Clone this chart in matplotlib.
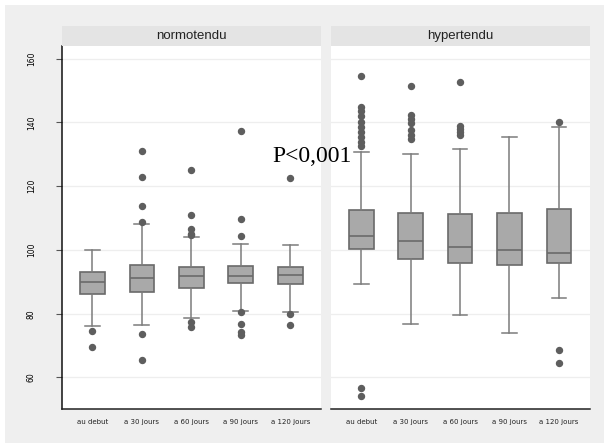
import matplotlib.pyplot as plt
from matplotlib.patches import Rectangle

# categories (time points)
categories = ['au debut', 'a 30 jours', 'a 60 jours', 'a 90 jours', 'a 120 jours']
groups = ['normotendu', 'hypertendu']

# normotendu box stats
normo_med = [89.9, 91.3, 91.7, 91.7, 92.0]
normo_q1 = [86.2, 86.7, 88.2, 89.5, 89.2]
normo_q3 = [93.2, 95.3, 94.7, 95.1, 94.7]
normo_wlo = [76.0, 76.4, 78.7, 81.0, 80.6]
normo_whi = [100.0, 108.1, 104.1, 102.0, 101.4]
normo_fliers = [
    [74.7, 69.7],
    [131.1, 123.0, 113.7, 108.9, 73.5, 65.4],
    [125.1, 111.1, 106.7, 105.1, 104.6, 77.5, 75.7],
    [137.2, 109.7, 104.4, 80.6, 76.8, 74.4, 73.4],
    [122.7, 79.8, 76.6],
]

# hypertendu box stats
hyper_med = [104.5, 102.9, 101.0, 100.0, 99.0]
hyper_q1 = [100.2, 97.2, 95.8, 95.2, 95.8]
hyper_q3 = [112.6, 111.7, 111.3, 111.7, 113.0]
hyper_wlo = [89.4, 76.8, 79.5, 74.0, 85.0]
hyper_whi = [130.8, 130.1, 131.7, 135.4, 138.6]
hyper_fliers = [
    [154.7, 145.0, 143.5, 142.0, 140.0, 138.5, 137.0, 135.5, 134.0, 132.5, 56.8, 54.1],
    [151.5, 142.2, 141.0, 139.8, 137.5, 136.0, 134.8],
    [152.6, 139.0, 138.0, 137.0, 136.2],
    [],
    [140.2, 68.7, 64.4],
]

y_ticks = [60, 80, 100, 120, 140, 160]


def make_stats(med, q1, q3, wlo, whi, fliers):
    stats = []
    for i in range(len(med)):
        stats.append({'med': med[i], 'q1': q1[i], 'q3': q3[i],
                      'whislo': wlo[i], 'whishi': whi[i], 'fliers': fliers[i]})
    return stats


all_stats = [
    make_stats(normo_med, normo_q1, normo_q3, normo_wlo, normo_whi, normo_fliers),
    make_stats(hyper_med, hyper_q1, hyper_q3, hyper_wlo, hyper_whi, hyper_fliers),
]

W, H = 604, 443
fig = plt.figure(figsize=(W / 100, H / 100), dpi=100)
fig.patch.set_facecolor('white')
fig.patches.append(Rectangle((5 / W, 0), 1, (H - 5) / H, transform=fig.transFigure,
                             facecolor='#efefef', edgecolor='none', zorder=-10))

ax_bottom = (H - 409.3) / H
ax_height = (409.3 - 46) / H
strip_h = 19.7 / H
lefts = [62.3 / W, 331 / W]
width = 258.6 / W

box_col = '#a9a9a9'
edge_col = '#6a6a6a'
whisk_col = '#7c7c7c'
dot_col = '#5e5e5e'

axes = []
for k, stats in enumerate(all_stats):
    ax = fig.add_axes([lefts[k], ax_bottom, width, ax_height])
    axes.append(ax)
    ax.bxp(stats, positions=range(1, 6), widths=0.5, capwidths=0.3, patch_artist=True,
           boxprops=dict(facecolor=box_col, edgecolor=edge_col, linewidth=1.2),
           medianprops=dict(color=edge_col, linewidth=1.2),
           whiskerprops=dict(color=whisk_col, linewidth=1.1),
           capprops=dict(color=whisk_col, linewidth=1.1),
           flierprops=dict(marker='o', markerfacecolor=dot_col, markeredgecolor=dot_col,
                           markersize=4.3))
    ax.set_xlim(0.39, 5.62)
    ax.set_ylim(50, 164)
    ax.set_yticks(y_ticks)
    ax.set_xticks(range(1, 6))
    ax.set_xticklabels(categories, fontsize=5, color='#222222')
    ax.tick_params(axis='x', length=0, pad=7)
    ax.yaxis.grid(True, color='#eeeeee', linewidth=0.9)
    ax.set_axisbelow(True)
    for s in ['top', 'right']:
        ax.spines[s].set_visible(False)
    ax.spines['bottom'].set_color('#222222')
    ax.spines['bottom'].set_linewidth(1.1)

    # facet strip
    fig.patches.append(Rectangle((lefts[k], ax_bottom + ax_height), width, strip_h,
                                 transform=fig.transFigure, facecolor='#e4e4e4',
                                 edgecolor='none'))
    fig.text(lefts[k] + width / 2, ax_bottom + ax_height + strip_h / 2, groups[k],
             ha='center', va='center', fontsize=9.5, family='Liberation Sans',
             color='#222222')

ax0, ax1 = axes
ax0.spines['left'].set_color('#111111')
ax0.spines['left'].set_linewidth(1.1)
ax0.tick_params(axis='y', length=4, pad=15, labelsize=5.5, color='#555555')
plt.setp(ax0.get_yticklabels(), rotation=90, va='center')

ax1.spines['left'].set_visible(False)
ax1.tick_params(axis='y', length=0, labelleft=False)

fig.text(272.7 / W, (H - 162.3) / H, 'P<0,001', fontsize=17, family='Liberation Serif',
         ha='left', va='baseline', color='black')

fig.savefig('out.png', dpi=100)
